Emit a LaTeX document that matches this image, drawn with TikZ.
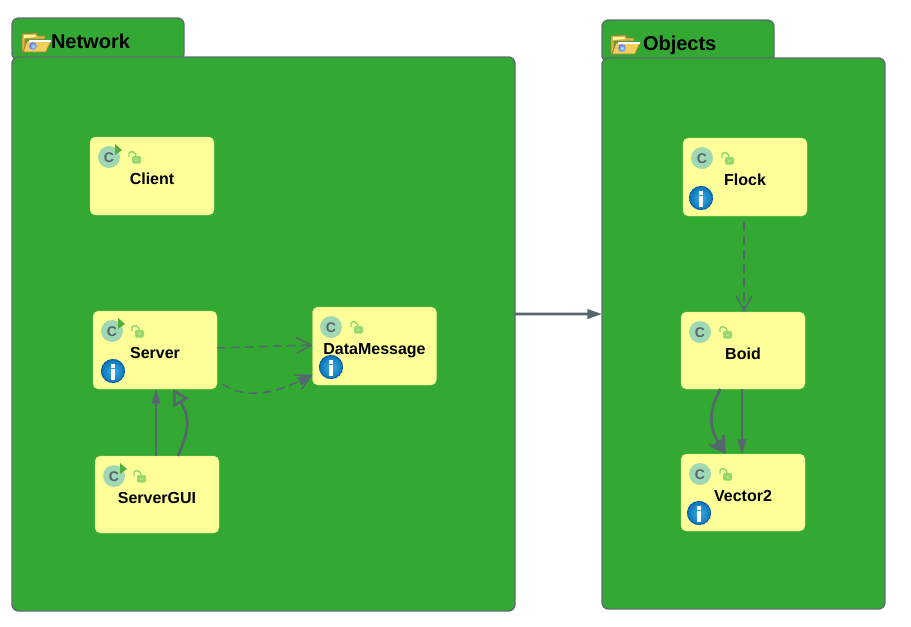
\documentclass[tikz,border=0pt]{standalone}
\usepackage{fontspec}
\setmainfont{Liberation Sans}
\usetikzlibrary{arrows.meta,calc,shadings}
\definecolor{pkggreen}{HTML}{33A833}
\definecolor{pkgedge}{HTML}{5C6E70}
\definecolor{boxyellow}{HTML}{FFFF99}
\definecolor{boxedge}{HTML}{D4EE7E}
\definecolor{linegrey}{HTML}{55666C}
\definecolor{ccircle}{HTML}{A0D8B4}
\definecolor{lockgreen}{HTML}{96D86E}
\definecolor{lockcore}{HTML}{B4E07E}
\definecolor{playgreen}{HTML}{4FB040}
\definecolor{infoin}{HTML}{38B0E4}
\definecolor{infoout}{HTML}{0B72B8}
\definecolor{inforing}{HTML}{0A4E9E}
\definecolor{foldback}{HTML}{D8B848}
\definecolor{foldfront}{HTML}{F2CE5A}
\definecolor{foldedge}{HTML}{9A8238}
\def\px{0.75pt}
\tikzset{
  x=0.75pt,y=-0.75pt,
  every node/.style={outer sep=0pt},
  pkgbody/.style={draw=pkgedge,line width=1.1pt,fill=pkggreen,rounded corners=5pt,minimum width=503*\px,minimum height=554*\px,inner sep=0pt},
  pkgtab/.style={draw=pkgedge,line width=1.1pt,fill=pkggreen,rounded corners=5pt,inner xsep=39*\px,inner ysep=0pt,text width=94*\px,minimum height=42*\px,align=left,font=\bfseries\fontsize{15}{18}\selectfont,text=black,text height=18*\px,text depth=0pt},
  classbox/.style={draw=boxedge,line width=0.3pt,fill=boxyellow,rounded corners=4pt,minimum width=124*\px,minimum height=78*\px,inner sep=0pt,font=\bfseries\fontsize{12}{14}\selectfont,text height=13pt,text depth=0pt},
  rel/.style={draw=linegrey,line width=1.2pt},
  thickrel/.style={draw=linegrey,line width=1.9pt},
  dashrel/.style={draw=linegrey,line width=1.1pt,dash pattern=on 6.5pt off 4pt},
  tipfill/.tip={Triangle[length=11pt,width=6.5pt]},
  tipopen/.tip={Straight Barb[length=11pt,width=12pt]},
  tiphollow/.tip={Triangle[open,length=12pt,width=13pt]},
  classmark/.pic={
    \fill[ccircle] (19,20) circle (11);
    \node[font=\bfseries\fontsize{10.5}{12}\selectfont,text=linegrey,inner sep=0pt] (-c) at (19,20.5) {C};
    \draw[lockgreen,line width=1.1pt,rounded corners=1.5pt] (39,20) -- (39,14.8) -- (45,14.8) -- (46,19);
    \fill[lockgreen,rounded corners=1pt] (42,19) rectangle (51,26.5);
    \fill[lockcore] (45,21.5) rectangle (48,23.5);
  },
  playmark/.pic={\fill[playgreen] (25,7) -- (32,13) -- (25,18) -- cycle;},
  infomark/.pic={
    \shade[inner color=infoin,outer color=infoout] (19,60) circle (12);
    \draw[inforing,line width=0.6pt,dash pattern=on 2pt off 1pt] (19,60) circle (11.6);
    \fill[white] (17,53) rectangle (21,56.5);
    \fill[white] (17,58) rectangle (21,69);
  },
  foldermark/.pic={
    \fill[foldback,draw=foldedge,line width=.6pt] (0,2) -- (14,1) -- (16,4) -- (23,4) -- (23,7) -- (3,7) -- (3,20) -- (0,20) -- cycle;
    \fill[white!60!yellow] (2,3) -- (13,3) -- (14,5) -- (2,6) -- cycle;
    \fill[foldfront,draw=foldedge,line width=.6pt] (5,9) -- (29,9) -- (24,20) -- (1,20) -- cycle;
    \fill[white] (7,8) rectangle (29,9.5);
    \shade[inner color=cyan!40!white,outer color=blue!60!white] (11,14) circle (3.8);
  }
}
\begin{document}
\begin{tikzpicture}
\useasboundingbox (0,0) rectangle (911,626);
% packages
\node[pkgtab] (networktab) at (98,39) {Network};
\node[pkgbody] (network) at (263.5,334) {};
\node[pkgtab,inner xsep=41*\px,text width=90*\px] (objectstab) at (688,41) {Objects};
\node[pkgbody,minimum width=283*\px,minimum height=551*\px] (objects) at (743.5,333.5) {};
\pic at (22,32) {foldermark};
\pic at (611,34) {foldermark};
% classes
\node[classbox] (client) at (152,176) {Client};
\node[classbox] (server) at (155,350) {Server};
\node[classbox,minimum height=77*\px] (servergui) at (157,494.5) {ServerGUI};
\node[classbox] (datamessage) at (374.5,346) {DataMessage};
\node[classbox] (flock) at (745,177) {Flock};
\node[classbox,minimum height=77*\px] (boid) at (743,350.5) {Boid};
\node[classbox,minimum height=77*\px] (vector) at (743,492.5) {Vector2};
\pic (m1) at (90,137) {classmark};  \pic at (90,137) {playmark};
\pic (m2) at (93,311) {classmark};  \pic at (93,311) {playmark};
\pic (m3) at (95,456) {classmark};  \pic at (95,456) {playmark};
\pic (m4) at (312,307) {classmark};
\pic (m5) at (683,138) {classmark};
\pic (m6) at (681,312) {classmark};
\pic (m7) at (681,454) {classmark};
\pic at (94,311) {infomark};
\pic at (312,307) {infomark};
\pic at (682,138) {infomark};
\pic at (680,453) {infomark};
% connectors
\draw[draw=linegrey,line width=2pt,-{Triangle[length=11pt,width=7pt]}] ([yshift=15pt]network.east) -- ([yshift=14.6pt]objects.west);
\draw[dashrel,-{tipopen}] (server.east) ++(0,-2) -- ([yshift=0.75pt]datamessage.west);
\draw[dashrel,-{tipopen}] ([xshift=4pt,yshift=-25.5pt]server.east) .. controls ($(server.east)+(25,47)$) and ($(server.east)+(50,48)$) .. ([yshift=-21.5pt]datamessage.west);
\draw[dashrel,line width=0.4pt,-{Triangle[length=11pt,width=7pt]}] ([xshift=4pt,yshift=-25.5pt]server.east) .. controls ($(server.east)+(25,47)$) and ($(server.east)+(50,48)$) .. ([yshift=-21.5pt]datamessage.west);
\draw[rel,-{tipfill}] ([xshift=-0.75pt]servergui.north) -- ([xshift=0.75pt]server.south);
\draw[thickrel,-{tiphollow}] ([xshift=15.75pt]servergui.north) .. controls ($(servergui.north)+(33,-28)$) and ($(servergui.north)+(33,-38)$) .. ([xshift=13.5pt]server.south);
\draw[dashrel,-{tipopen}] ([xshift=-0.75pt,yshift=-4.5pt]flock.south) -- ([xshift=0.75pt]boid.north);
\draw[rel,-{tipfill}] ([xshift=-0.75pt]boid.south) -- ([xshift=-0.75pt]vector.north);
\draw[thickrel,-{Straight Barb[length=11pt,width=13pt]}] ([xshift=-17pt]boid.south) .. controls ($(boid.south)+(-36,25)$) and ($(boid.south)+(-34,40)$) .. ([xshift=-13pt]vector.north);
\draw[thickrel,line width=0.8pt,-{Triangle[length=11pt,width=8pt]}] ([xshift=-17pt]boid.south) .. controls ($(boid.south)+(-36,25)$) and ($(boid.south)+(-34,40)$) .. ([xshift=-13pt]vector.north);
\end{tikzpicture}
\end{document}
